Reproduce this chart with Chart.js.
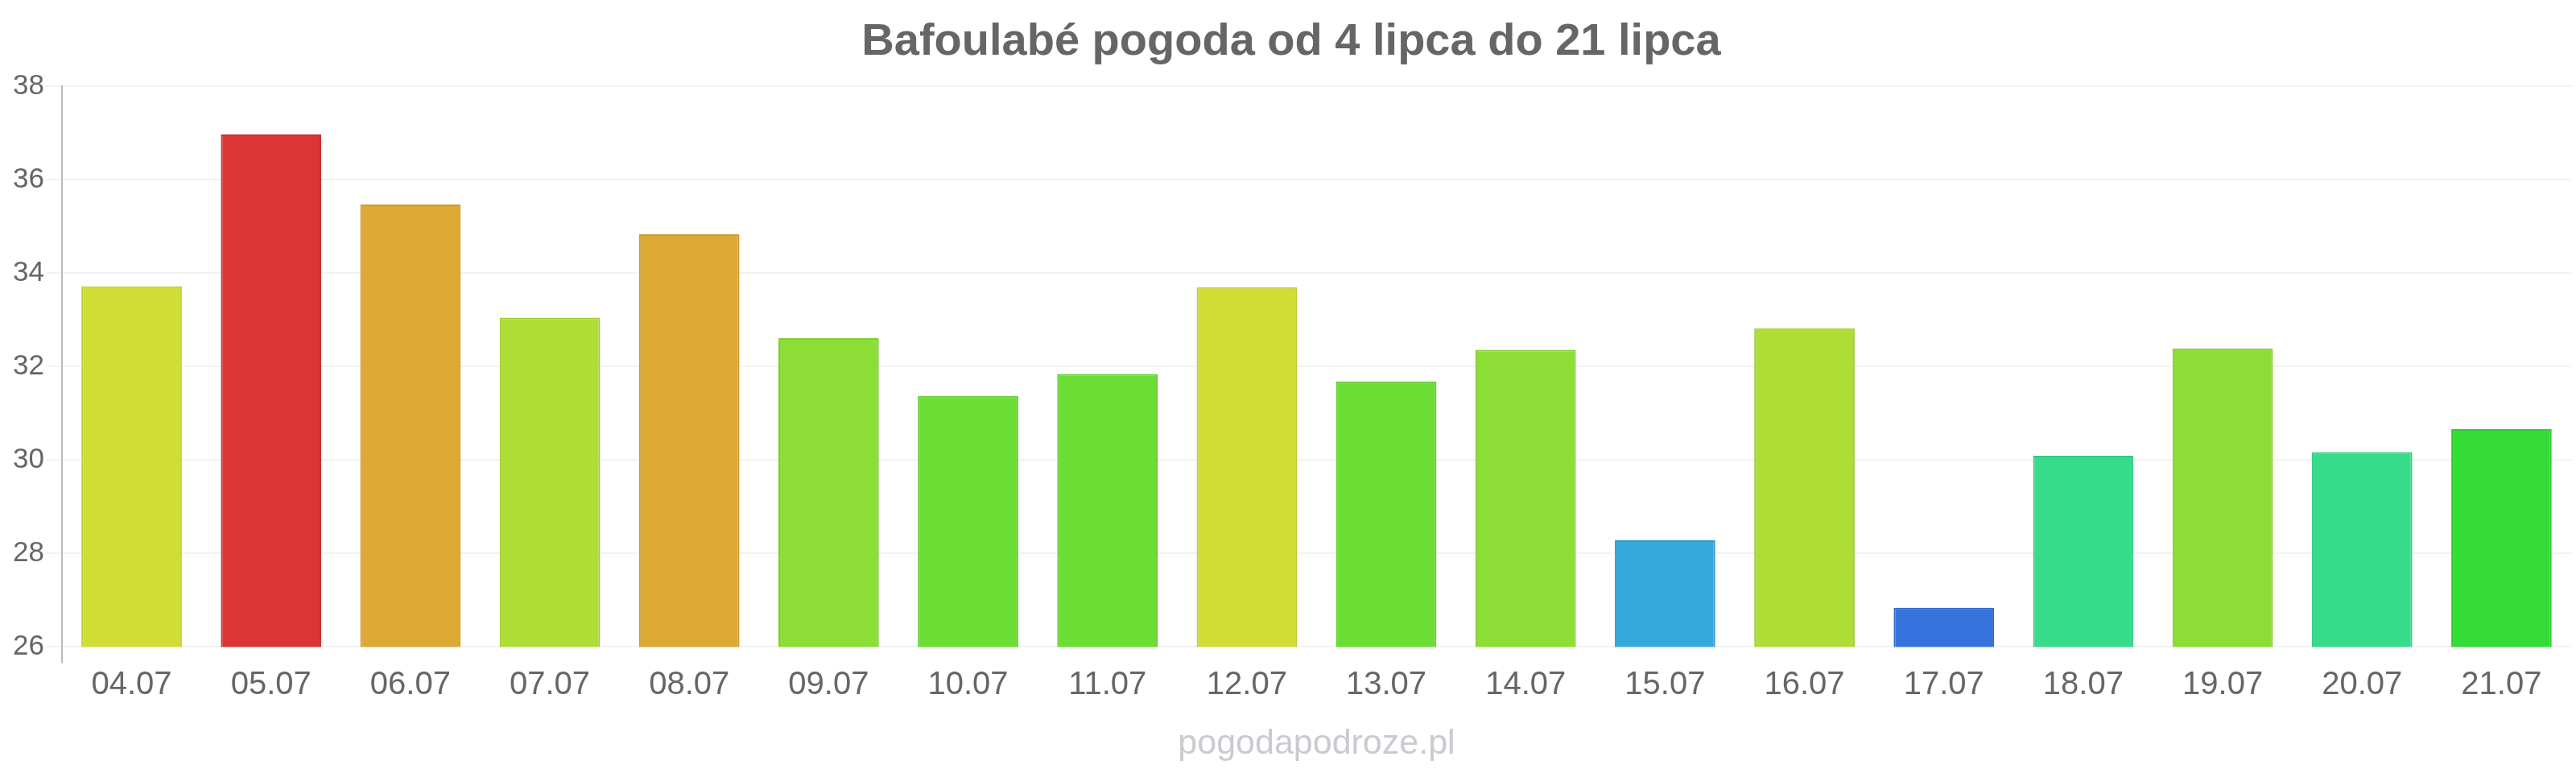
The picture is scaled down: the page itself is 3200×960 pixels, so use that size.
<!DOCTYPE html>
<html>
<head>
<meta charset="utf-8">
<script src="https://cdn.jsdelivr.net/npm/chart.js@4"></script>
<style>
  html, body { margin: 0; padding: 0; background: #fff; }
  #wrap { width: 3200px; height: 960px; }
</style>
</head>
<body>
<div id="wrap"><canvas id="myChart" width="3200" height="960"></canvas></div>
<script>
const labels = ["04.07", "05.07", "06.07", "07.07", "08.07", "09.07", "10.07", "11.07", "12.07",
  "13.07", "14.07", "15.07", "16.07", "17.07", "18.07", "19.07", "20.07", "21.07"];
const temps = [33.72, 36.97, 35.47, 33.05, 34.83, 32.61, 31.37, 31.84, 33.7,
  31.68, 32.36, 28.28, 32.82, 26.84, 30.09, 32.39, 30.17, 30.66];
const barColors = ["#d0dd35", "#dc3535", "#dca935", "#aedd35", "#dca935", "#8cdd35", "#6bdd35", "#6bdd35", "#d0dd35",
  "#6bdd35", "#8cdd35", "#35a9dc", "#aedd35", "#3574dc", "#37dc8b", "#8cdd35", "#37dc8b", "#35dc35"];
const yTicks = [26, 28, 30, 32, 34, 36, 38];

// slightly darker edge for each bar
const darken = (hex, f) => {
  const n = parseInt(hex.slice(1), 16);
  const r = Math.round(((n >> 16) & 255) * f);
  const g = Math.round(((n >> 8) & 255) * f);
  const b = Math.round((n & 255) * f);
  return `rgb(${r}, ${g}, ${b})`;
};

Chart.defaults.font.family = "'Liberation Sans', Arial, sans-serif";
Chart.defaults.color = "#666";

const ctx = document.getElementById("myChart").getContext("2d");
new Chart(ctx, {
  type: "bar",
  data: {
    labels: labels,
    datasets: [
      {
        data: temps,
        backgroundColor: barColors,
        borderColor: barColors.map((c) => darken(c, 0.92)),
        borderWidth: 2,
        barPercentage: 0.72,
        categoryPercentage: 1,
      },
    ],
  },
  options: {
    responsive: false,
    animation: false,
    layout: { padding: { left: 14, right: 6, top: 0, bottom: 6 } },
    plugins: {
      legend: { display: false },
      tooltip: { enabled: false },
      title: {
        display: true,
        text: "Bafoulabé pogoda od 4 lipca do 21 lipca",
        color: "#666",
        font: { size: 56, weight: "bold" },
        padding: { top: 19, bottom: 21 },
      },
      subtitle: {
        display: true,
        position: "bottom",
        fullSize: false, // centred under the plot area, not the canvas
        text: "pogodapodroze.pl",
        color: "#cacad0",
        font: { size: 43 },
        padding: { top: 19, bottom: 4 },
      },
    },
    scales: {
      x: {
        border: { display: false },
        grid: {
          drawOnChartArea: false,
          tickLength: 20,
          lineWidth: 2,
          color: (c) => (c.index === 0 ? "#bbb" : "rgba(0,0,0,0)"),
        },
        ticks: {
          font: { size: 40 },
          color: "#666",
          padding: 4,
        },
      },
      y: {
        min: 26,
        max: 38,
        border: { display: true, color: "#bbb", width: 2 },
        grid: {
          color: "#f2f2f2",
          lineWidth: 2,
          tickLength: 20,
        },
        afterBuildTicks: (scale) => {
          scale.ticks = yTicks.map((v) => ({ value: v }));
        },
        ticks: {
          font: { size: 35 },
          color: "#666",
          padding: 2,
        },
      },
    },
  },
});
</script>
</body>
</html>
